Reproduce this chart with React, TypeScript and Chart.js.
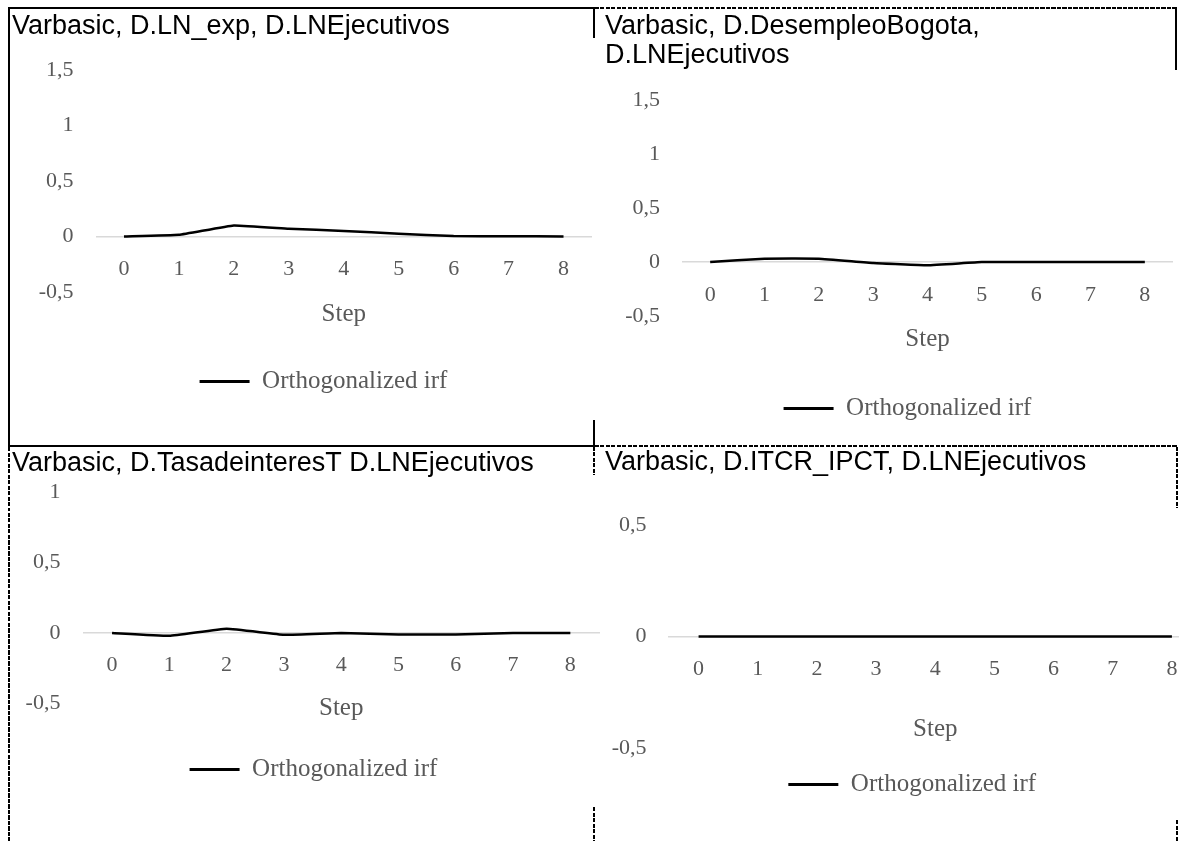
import React, { useEffect, useRef } from 'react';
import { Chart, registerables } from 'chart.js';

Chart.register(...registerables);

// ---------- data ----------
const steps = ['0', '1', '2', '3', '4', '5', '6', '7', '8'];

const irfLnExp = [0, 0.015, 0.1, 0.07, 0.05, 0.025, 0.005, 0.002, 0.001];
const irfDesempleoBogota = [0, 0.03, 0.03, -0.01, -0.03, 0, 0, 0, 0];
const irfTasaInteres = [0, -0.02, 0.03, -0.012, 0, -0.01, -0.01, 0, 0];
const irfItcrIpc = [0, 0, 0, 0, 0, 0, 0, 0, 0];

const yTicksLnExp = [-0.5, 0, 0.5, 1, 1.5];
const yTicksDesempleo = [-0.5, 0, 0.5, 1, 1.5];
const yTicksTasa = [-0.5, 0, 0.5, 1];
const yTicksItcr = [-0.5, 0, 0.5];

const titleLnExp = 'Varbasic, D.LN_exp, D.LNEjecutivos';
const titleDesempleo = ['Varbasic, D.DesempleoBogota,', 'D.LNEjecutivos'];
const titleTasa = 'Varbasic, D.TasadeinteresT D.LNEjecutivos';
const titleItcr = 'Varbasic, D.ITCR_IPCT, D.LNEjecutivos';

const seriesLabel = 'Orthogonalized irf';
const xTitle = 'Step';

// ---------- styles ----------
const SERIF = "'Liberation Serif', 'DejaVu Serif', serif";
const SANS = "'Liberation Sans', Arial, sans-serif";
const GREY = '#595959';

const legendShift = {
  id: 'legendShift',
  afterLayout(chart: any, _args: any, opts: any) {
    const lg = chart.legend;
    if (lg && opts && opts.dx) {
      lg.left += opts.dx;
      lg.right += opts.dx;
    }
  },
};

type Lay = {
  x: number; y: number; w: number; h: number;
  padL: number; padR: number; padB: number;
  titleTop: number; titleBottom: number;
  legendPad: number; legendDx: number;
  xTickPad: number; xAxisH: number;
  yTickPad: number; yAxisW: number;
};

const lay1: Lay = { x: 10, y: 9, w: 584, h: 436, padL: 2, padR: 3, padB: 41, titleTop: 3.5, titleBottom: 28.5, legendPad: 77, legendDx: 22, xTickPad: 20, xAxisH: 93, yTickPad: 23, yAxisW: 84.5 };
const lay2: Lay = { x: 596, y: 9, w: 583, h: 436, padL: 9, padR: 7, padB: 14, titleTop: 3.5, titleBottom: 29.5, legendPad: 80, legendDx: 19, xTickPad: 20, xAxisH: 92, yTickPad: 23, yAxisW: 78 };
const lay3: Lay = { x: 10, y: 447, w: 590, h: 394, padL: 2, padR: 1, padB: 49, titleTop: 2.5, titleBottom: 13.5, legendPad: 53.5, legendDx: 8, xTickPad: 19, xAxisH: 90.5, yTickPad: 23, yAxisW: 71.4 };
const lay4: Lay = { x: 596, y: 447, w: 614, h: 394, padL: 9, padR: 8.5, padB: 34, titleTop: 1.5, titleBottom: 47.5, legendPad: 24, legendDx: 9, xTickPad: 19.5, xAxisH: 107.5, yTickPad: 22.5, yAxisW: 64 };

function IrfPanel({ title, values, yTicks, lay }: { title: string | string[]; values: number[]; yTicks: number[]; lay: Lay }) {
  const ref = useRef<HTMLCanvasElement>(null);
  useEffect(() => {
    if (!ref.current) return;
    const chart = new Chart(ref.current, {
      type: 'line',
      data: {
        labels: steps,
        datasets: [
          {
            label: seriesLabel,
            data: values,
            borderColor: '#000',
            backgroundColor: '#000',
            borderWidth: 2.5,
            pointRadius: 0,
            pointHoverRadius: 0,
            tension: 0.1,
            fill: false,
          },
        ],
      },
      options: {
        animation: false,
        responsive: true,
        maintainAspectRatio: false,
        events: [],
        layout: { padding: { left: lay.padL, right: lay.padR, top: 0, bottom: lay.padB } },
        plugins: {
          title: {
            display: true,
            text: title,
            align: 'start',
            color: '#000',
            font: { family: SANS, size: 27, weight: 'normal', lineHeight: '29px' },
            padding: { top: lay.titleTop, bottom: lay.titleBottom },
          },
          legend: {
            position: 'bottom',
            align: 'center',
            labels: {
              boxWidth: 50,
              boxHeight: 3,
              padding: lay.legendPad,
              color: GREY,
              font: { family: SERIF, size: 25 },
              generateLabels: (c: any) =>
                (Chart.defaults.plugins.legend.labels.generateLabels as any)(c).map((i: any) => ({ ...i, lineWidth: 0 })),
            },
          },
          legendShift: { dx: lay.legendDx },
          tooltip: { enabled: false },
        } as any,
        scales: {
          x: {
            type: 'category',
            offset: true,
            position: { y: 0 } as any,
            grid: { display: false, drawTicks: false },
            border: { display: true, color: '#d9d9d9', width: 1.5 },
            ticks: {
              color: GREY,
              font: { family: SERIF, size: 22, lineHeight: 1.2 },
              padding: lay.xTickPad,
              maxRotation: 0,
              autoSkip: false,
            },
            title: {
              display: true,
              text: xTitle,
              color: GREY,
              font: { family: SERIF, size: 25, lineHeight: '30px' },
              padding: 0,
            },
            afterFit: (s: any) => {
              s.height = lay.xAxisH;
            },
          },
          y: {
            min: yTicks[0],
            max: yTicks[yTicks.length - 1],
            grid: { display: false, drawTicks: false },
            border: { display: false },
            ticks: {
              stepSize: 0.5,
              color: GREY,
              font: { family: SERIF, size: 22, lineHeight: 1.2 },
              padding: lay.yTickPad,
              callback: (v: any) => String(v).replace('.', ','),
            },
            afterFit: (s: any) => {
              s.width = lay.yAxisW;
            },
          },
        },
      },
      plugins: [legendShift as any],
    });
    return () => chart.destroy();
  }, []);
  return (
    <div style={{ position: 'absolute', left: lay.x, top: lay.y, width: lay.w, height: lay.h }}>
      <canvas ref={ref} />
    </div>
  );
}

const dashH = 'repeating-linear-gradient(90deg, #000 0 4px, transparent 4px 5.5px)';
const dashV = 'repeating-linear-gradient(180deg, #000 0 4px, transparent 4px 5.5px)';

function Seg({ x, y, w, h, dashed }: { x: number; y: number; w: number; h: number; dashed?: boolean }) {
  const bg = dashed ? (w > h ? dashH : dashV) : '#000';
  return <div style={{ position: 'absolute', left: x, top: y, width: w, height: h, background: bg }} />;
}

export default function App() {
  return (
    <div style={{ position: 'absolute', left: 0, top: 0, width: 1179, height: 841, overflow: 'hidden', background: '#fff' }}>
      <IrfPanel title={titleLnExp} values={irfLnExp} yTicks={yTicksLnExp} lay={lay1} />
      <IrfPanel title={titleDesempleo} values={irfDesempleoBogota} yTicks={yTicksDesempleo} lay={lay2} />
      <IrfPanel title={titleTasa} values={irfTasaInteres} yTicks={yTicksTasa} lay={lay3} />
      <IrfPanel title={titleItcr} values={irfItcrIpc} yTicks={yTicksItcr} lay={lay4} />

      {/* panel 1 frame */}
      <Seg x={8} y={7} w={2} h={440} />
      <Seg x={8} y={7} w={587} h={2} />
      <Seg x={8} y={445} w={587} h={2} />
      <Seg x={593} y={7} w={2} h={31} />
      <Seg x={593} y={420} w={2} h={25} />
      {/* panel 2 frame */}
      <Seg x={595} y={7} w={582} h={2} dashed />
      <Seg x={1175} y={7} w={2} h={63} />
      {/* panel 3 frame */}
      <Seg x={8} y={447} w={2} h={394} dashed />
      <Seg x={593} y={447} w={2} h={28} dashed />
      <Seg x={593} y={807} w={2} h={34} dashed />
      {/* panel 4 frame */}
      <Seg x={595} y={445} w={582} h={2} dashed />
      <Seg x={1176} y={447} w={2} h={61} dashed />
      <Seg x={1176} y={820} w={2} h={21} dashed />
    </div>
  );
}
